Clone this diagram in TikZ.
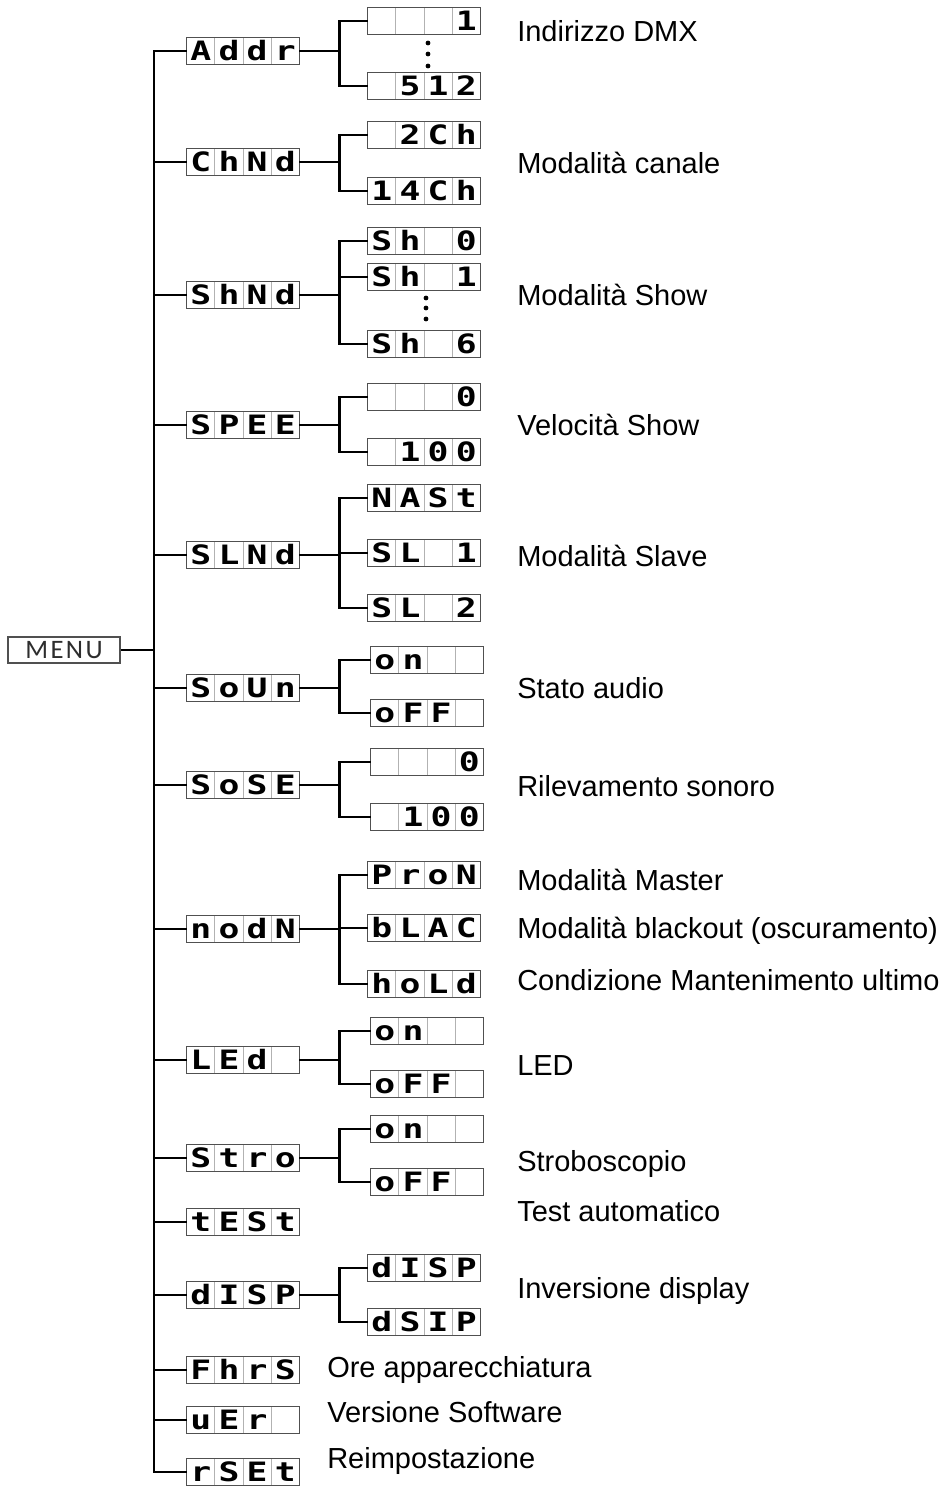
\documentclass[tikz,border=0pt]{standalone}
\usepackage{fontspec}
\usepackage{graphicx}
\usepackage{tikz}
\usepackage{xcolor}
\usetikzlibrary{calc,positioning}
\setmainfont{Liberation Sans}
\newfontfamily\lcdface{DejaVu Sans Mono}
\newfontfamily\menuface[LetterSpace=9]{Carlito}
\definecolor{lcdRim}{RGB}{80,80,80}
\definecolor{lcdGrid}{RGB}{178,178,178}
\definecolor{menuInk}{RGB}{45,45,45}
\newcommand{\lcdglyph}[1]{\scalebox{1.3}[1]{#1}}
\newcommand{\lcdbox}[6]{%
  \node[lcd] (#1) at (#2) {};
  \foreach \k in {1,2,3}{\draw[lcdsep] ($(#1.south west)!\k/4!(#1.south east)$) -- ($(#1.north west)!\k/4!(#1.north east)$);}
  \node[lcdchar] (#1-1) at ($(#1.west)!0.125!(#1.east)$) {\lcdglyph{#3}};
  \node[lcdchar] (#1-2) at ($(#1.west)!0.375!(#1.east)$) {\lcdglyph{#4}};
  \node[lcdchar] (#1-3) at ($(#1.west)!0.625!(#1.east)$) {\lcdglyph{#5}};
  \node[lcdchar] (#1-4) at ($(#1.west)!0.875!(#1.east)$) {\lcdglyph{#6}};
  \draw[lcdrim] (#1.south west) rectangle (#1.north east);
}

\begin{document}
\begin{tikzpicture}[x=0.75pt,y=-0.75pt,
  lcd/.style={minimum width=84pt,minimum height=20pt,inner sep=0pt},
  lcdsep/.style={draw=lcdGrid,line width=0.6pt},
  lcdrim/.style={draw=lcdRim,line width=0.9pt},
  lcdchar/.style={inner sep=0pt,text height=14.6pt,text depth=0pt,
    font=\lcdface\bfseries\fontsize{20pt}{20pt}\selectfont},
  wire/.style={line width=2.2pt},
  lbl/.style={anchor=base west,inner sep=0pt,font=\fontsize{21.75pt}{26pt}\selectfont}]
  \useasboundingbox (0,0) rectangle (946,1488);
  % menu and trunk
  \node[draw=lcdRim,line width=0.9pt,minimum width=84pt,minimum height=19.5pt,inner sep=0pt,
    font=\menuface\fontsize{20pt}{20pt}\selectfont\color{menuInk}] (menu) at (64,650) {MENU};
  \coordinate (trunk) at (154,650);
  \draw[wire] (menu.east) -- (trunk);
  % first level
  \lcdbox{mAddr}{243,51}{A}{d}{d}{r}
  \lcdbox{mChNd}{243,162}{C}{h}{N}{d}
  \lcdbox{mShNd}{243,295}{S}{h}{N}{d}
  \lcdbox{mSpee}{243,425}{S}{P}{E}{E}
  \lcdbox{mSlNd}{243,555}{S}{L}{N}{d}
  \lcdbox{mSoUn}{243,688}{S}{o}{U}{n}
  \lcdbox{mSoSe}{243,785}{S}{o}{S}{E}
  \lcdbox{mNodN}{243,929}{n}{o}{d}{N}
  \lcdbox{mLed}{243,1060}{L}{E}{d}{}
  \lcdbox{mStro}{243,1158}{S}{t}{r}{o}
  \lcdbox{mTest}{243,1222}{t}{E}{S}{t}
  \lcdbox{mDisp}{243,1295}{d}{I}{S}{P}
  \lcdbox{mFhrs}{243,1370}{F}{h}{r}{S}
  \lcdbox{mVer}{243,1420}{u}{E}{r}{}
  \lcdbox{mRset}{243,1472}{r}{S}{E}{t}
  \foreach \n in {mAddr,mChNd,mShNd,mSpee,mSlNd,mSoUn,mSoSe,mNodN,mLed,mStro,mTest,mDisp,mFhrs,mVer,mRset}
    {\draw[wire] (trunk) |- (\n.west);}
  % second level
  \lcdbox{sAddrA}{424,21}{}{}{}{1}
  \lcdbox{sAddrB}{424,86}{}{5}{1}{2}
  \lcdbox{sChNdA}{424,135}{}{2}{C}{h}
  \lcdbox{sChNdB}{424,191}{1}{4}{C}{h}
  \lcdbox{sShNdA}{424,241}{S}{h}{}{0}
  \lcdbox{sShNdB}{424,277}{S}{h}{}{1}
  \lcdbox{sShNdC}{424,344}{S}{h}{}{6}
  \lcdbox{sSpeeA}{424,397}{}{}{}{0}
  \lcdbox{sSpeeB}{424,452}{}{1}{0}{0}
  \lcdbox{sSlNdA}{424,498}{N}{A}{S}{t}
  \lcdbox{sSlNdB}{424,553}{S}{L}{}{1}
  \lcdbox{sSlNdC}{424,608}{S}{L}{}{2}
  \lcdbox{sSoUnA}{427,660}{o}{n}{}{}
  \lcdbox{sSoUnB}{427,713}{o}{F}{F}{}
  \lcdbox{sSoSeA}{427,762}{}{}{}{0}
  \lcdbox{sSoSeB}{427,817}{}{1}{0}{0}
  \lcdbox{sNodNA}{424,875}{P}{r}{o}{N}
  \lcdbox{sNodNB}{424,928}{b}{L}{A}{C}
  \lcdbox{sNodNC}{424,984}{h}{o}{L}{d}
  \lcdbox{sLedA}{427,1031}{o}{n}{}{}
  \lcdbox{sLedB}{427,1084}{o}{F}{F}{}
  \lcdbox{sStroA}{427,1129}{o}{n}{}{}
  \lcdbox{sStroB}{427,1182}{o}{F}{F}{}
  \lcdbox{sDispA}{424,1268}{d}{I}{S}{P}
  \lcdbox{sDispB}{424,1322}{d}{S}{I}{P}
  \foreach \p/\kids in {mAddr/{sAddrA,sAddrB},mChNd/{sChNdA,sChNdB},mShNd/{sShNdA,sShNdB,sShNdC},
      mSpee/{sSpeeA,sSpeeB},mSlNd/{sSlNdA,sSlNdB,sSlNdC},mSoUn/{sSoUnA,sSoUnB},mSoSe/{sSoSeA,sSoSeB},
      mNodN/{sNodNA,sNodNB,sNodNC},mLed/{sLedA,sLedB},mStro/{sStroA,sStroB},mDisp/{sDispA,sDispB}}{
    \coordinate (j\p) at ($(\p.east)+(40,0)$);
    \draw[wire] (\p.east) -- (j\p);
    \foreach \c in \kids {\draw[wire] (j\p) |- (\c.west);}
  }
  % dots
  \foreach \y in {43,54,66} {\fill (428,\y) circle[radius=1.8pt];}
  \foreach \y in {298,308,319} {\fill (426,\y) circle[radius=1.8pt];}
  % labels
  \node[lbl] (tAddr) at (517,42) {Indirizzo DMX};
  \node[lbl] (tChNd) at (517,173) {Modalità canale};
  \node[lbl] (tShNd) at (517,305) {Modalità Show};
  \node[lbl] (tSpee) at (517,435) {Velocità Show};
  \node[lbl] (tSlNd) at (517,566) {Modalità Slave};
  \node[lbl] (tSoUn) at (517,698) {Stato audio};
  \node[lbl] (tSoSe) at (517,796) {Rilevamento sonoro};
  \node[lbl] (tProN) at (517,890) {Modalità Master};
  \node[lbl] (tBlac) at (517,938) {Modalità blackout (oscuramento)};
  \node[lbl] (tHold) at (517,990) {Condizione Mantenimento ultimo};
  \node[lbl] (tLed) at (517,1075) {LED};
  \node[lbl] (tStro) at (517,1171) {Stroboscopio};
  \node[lbl] (tTest) at (517,1221) {Test automatico};
  \node[lbl] (tDisp) at (517,1298) {Inversione display};
  \node[lbl] (tFhrs) at (327,1377) {Ore apparecchiatura};
  \node[lbl] (tVer) at (327,1422) {Versione Software};
  \node[lbl] (tRset) at (327,1468) {Reimpostazione};
\end{tikzpicture}
\end{document}
